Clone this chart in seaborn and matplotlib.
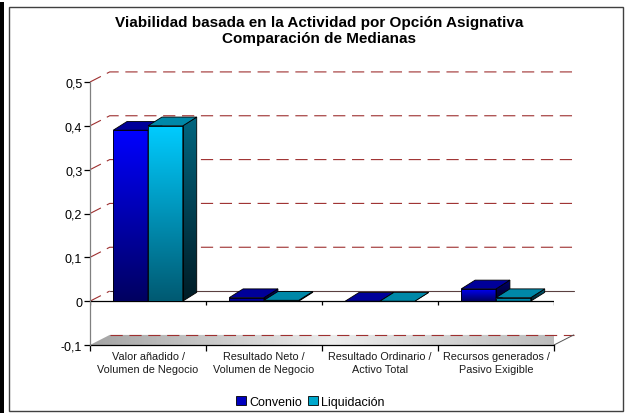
import numpy as np
import pandas as pd
import seaborn as sns
import matplotlib
matplotlib.use("Agg")
import matplotlib.pyplot as plt
from matplotlib.patches import Polygon, Rectangle, Patch
from matplotlib.colors import LinearSegmentedColormap

# values (medianas)
categories = ["Valor añadido /\nVolumen de Negocio", "Resultado Neto /\nVolumen de Negocio",
              "Resultado Ordinario /\nActivo Total", "Recursos generados /\nPasivo Exigible"]
series = ["Convenio", "Liquidación"]
convenio = [0.39, 0.008, 0.0, 0.028]
liquidacion = [0.40, 0.002, 0.0, 0.008]
y_ticks = [-0.1, 0, 0.1, 0.2, 0.3, 0.4, 0.5]
title_lines = ["Viabilidad basada en la Actividad por Opción Asignativa", "Comparación de Medianas"]

# colours per series: front top, front bottom, top face, side top, side bottom
styles = {
    "Convenio": ("#0000ff", "#000060", "#000099", "#000070", "#000020"),
    "Liquidación": ("#00ccff", "#005a72", "#0088a8", "#006680", "#001c26"),
}
legend_colors = ["#0000c0", "#00a8cc"]

# fake 3d depth (data units)
DXW, DYW = 0.17, 0.023
DXB, DYB = 0.12, 0.02


def fmt(v):
    if v == 0:
        return "0"
    return f"{v:.1f}".replace(".", ",")


def grad_fill(ax, clip, extent, colors, vertical=True, zorder=3):
    cmap = LinearSegmentedColormap.from_list("g", colors)
    g = np.linspace(0, 1, 128)
    g = g.reshape(-1, 1) if vertical else g.reshape(1, -1)
    im = ax.imshow(g, extent=extent, origin="lower", aspect="auto", cmap=cmap,
                   zorder=zorder, interpolation="bilinear")
    im.set_clip_path(clip)
    im.set_clip_on(True)
    return im


df = pd.DataFrame({
    "ratio": categories * 2,
    "valor": convenio + liquidacion,
    "opcion": [series[0]] * len(convenio) + [series[1]] * len(liquidacion),
})

sns.set_theme(style="white")
plt.rcParams["font.family"] = ["Liberation Sans", "DejaVu Sans"]
plt.rcParams["text.color"] = "black"

fig = plt.figure(figsize=(6.25, 4.14), dpi=100)
ax = fig.add_axes([90 / 625, 1 - 346 / 414, 464 / 625, 263 / 414])
ax.set_facecolor("none")

sns.barplot(data=df, x="ratio", y="valor", hue="opcion", order=categories, hue_order=series,
            palette=legend_colors, width=0.6, saturation=1, edgecolor="black", linewidth=0.6,
            legend=False, ax=ax)

xmin, xmax = -0.5, len(categories) - 0.5
ymin, ymax = y_ticks[0], y_ticks[-1]

# floor of the 3d box
floor = Polygon([(xmin, ymin), (xmax, ymin), (xmax + DXW, ymin + DYW), (xmin + DXW, ymin + DYW)],
                closed=True, facecolor="none", edgecolor="none", transform=ax.transData)
ax.add_patch(floor)
grad_fill(ax, floor, (xmin, xmax + DXW, ymin, ymin + DYW), ["#a4a4a4", "#ededed", "#b8b8b8"],
          vertical=False, zorder=1)
ax.plot([xmin + DXW, xmax + DXW], [ymin + DYW, ymin + DYW], color="#9e3030",
        lw=0.8, ls=(0, (11, 6)), zorder=1.2, clip_on=False)
ax.plot([xmax, xmax + DXW], [ymin, ymin + DYW], color="#555555", lw=0.7, zorder=1.2, clip_on=False)

# back wall gridlines
for v in y_ticks[1:]:
    xs = [xmin, xmin + DXW, xmax + DXW]
    ys = [v, v + DYW, v + DYW]
    if v == 0:
        ax.plot(xs[:2], ys[:2], color="#9e3030", lw=0.8, ls=(0, (11, 6)), zorder=1, clip_on=False)
        ax.plot(xs[1:], ys[1:], color="#5a4040", lw=0.8, zorder=1, clip_on=False)
    else:
        ax.plot(xs, ys, color="#9e3030", lw=0.8, ls=(0, (11, 6)), zorder=1, clip_on=False)

# front zero axis with its small ticks
bounds = np.arange(xmin, xmax + 0.01, 1.0)
ax.plot([xmin, xmax], [0, 0], color="black", lw=0.9, zorder=2)
ax.vlines(bounds, -0.009, 0, color="black", lw=0.9, zorder=2)

# bars: gradient front face + top and side faces
for k, (name, cont) in enumerate(zip(series, ax.containers)):
    ftop, fbot, topc, stop, sbot = styles[name]
    z = 3 + 2 * k
    for p in cont.patches:
        x0, w, h = p.get_x(), p.get_width(), p.get_height()
        x1 = x0 + w
        p.set_zorder(z + 0.5)
        if h > 0:
            grad_fill(ax, p, (x0, x1, 0, h), [fbot, ftop], zorder=z)
        p.set_facecolor("none")
        side = Polygon([(x1, 0), (x1, h), (x1 + DXB, h + DYB), (x1 + DXB, DYB)], closed=True,
                       facecolor="none", edgecolor="black", lw=0.6, zorder=z + 0.5, clip_on=False)
        ax.add_patch(side)
        grad_fill(ax, side, (x1, x1 + DXB, 0, h + DYB), [sbot, stop], zorder=z)
        top = Polygon([(x0, h), (x1, h), (x1 + DXB, h + DYB), (x0 + DXB, h + DYB)], closed=True,
                      facecolor=topc, edgecolor="black", lw=0.6, zorder=z + 0.5, clip_on=False)
        ax.add_patch(top)

ax.set_xlim(xmin, xmax)
ax.set_ylim(ymin, ymax)

ax.set_xticks(bounds, labels=[""] * len(bounds))
ax.set_xticks(range(len(categories)), labels=categories, minor=True)
for t in ax.get_xticklabels(minor=True):
    t.set_linespacing(1.45)
ax.tick_params(axis="x", which="major", direction="out", length=4, width=0.9, color="black", bottom=True)
ax.tick_params(axis="x", which="minor", length=0, pad=4, labelsize=7.8, labelcolor="#1a1a1a")
ax.set_yticks(y_ticks, labels=[fmt(v) for v in y_ticks])
ax.tick_params(axis="y", direction="out", length=4, width=0.9, color="black", left=True,
               labelsize=9, pad=1.5, labelcolor="black")
ax.set_xlabel("")
ax.set_ylabel("")
for s in ["top", "right"]:
    ax.spines[s].set_visible(False)
ax.spines["left"].set_color("#808080")
ax.spines["left"].set_linewidth(0.9)
ax.spines["bottom"].set_color("black")
ax.spines["bottom"].set_linewidth(0.9)
ax.spines["bottom"].set_zorder(2)

# title
fig.text(0.51, 1 - 27.5 / 414, title_lines[0], ha="center", va="baseline", fontsize=11,
         fontweight="bold", color="black")
fig.text(0.51, 1 - 43.5 / 414, title_lines[1], ha="center", va="baseline", fontsize=11,
         fontweight="bold", color="black")

# legend
handles = [Patch(facecolor=c, edgecolor="black", lw=0.6) for c in legend_colors]
fig.legend(handles, series, loc="center", bbox_to_anchor=(0.497, 1 - 403 / 414), ncol=2,
           frameon=False, fontsize=9, handlelength=0.75, handleheight=0.75,
           handletextpad=0.3, columnspacing=0.5, labelcolor="black")

# outer frame and dark strip on the left
fig.patches.append(Rectangle((9 / 625, 2 / 414), 614 / 625, 404 / 414, transform=fig.transFigure,
                             facecolor="none", edgecolor="#404040", lw=1.0))
fig.patches.append(Rectangle((0, 0), 4 / 625, 411 / 414, transform=fig.transFigure,
                             facecolor="black", edgecolor="none"))

fig.savefig("out.png", dpi=100)
